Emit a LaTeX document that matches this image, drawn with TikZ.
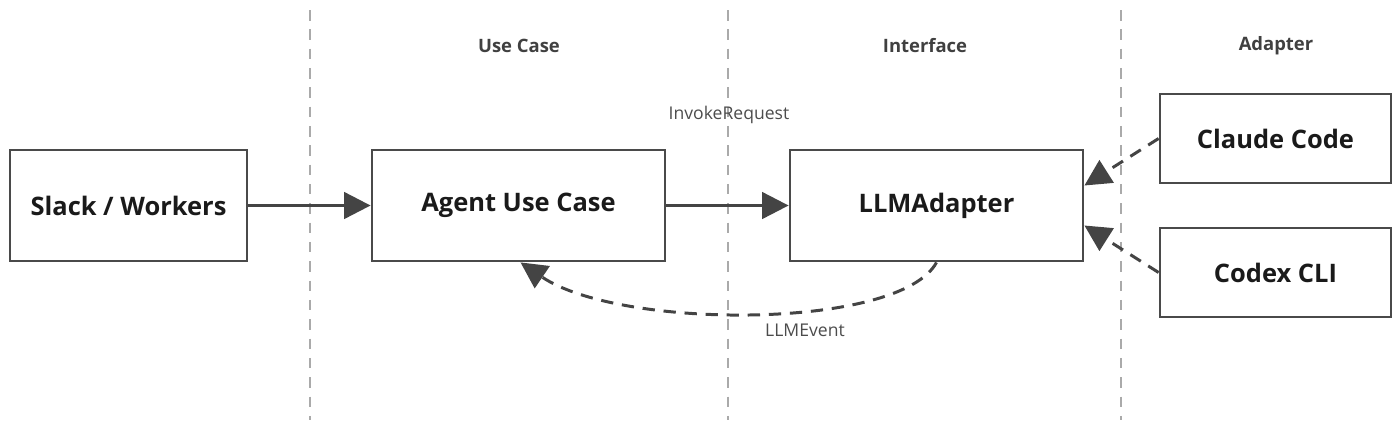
\documentclass[tikz,border=0pt]{standalone}
\usepackage{fontspec}
\setmainfont{Open Sans}
\usetikzlibrary{arrows.meta}
\definecolor{edge}{HTML}{444444}
\definecolor{boxline}{HTML}{4A4A4A}
\definecolor{sep}{HTML}{AAAAAA}
\definecolor{txt}{HTML}{1A1A1A}
\begin{document}
\begin{tikzpicture}[x=0.02cm,y=-0.02cm,
  box/.style={draw=boxline,line width=1.6pt,fill=white,inner sep=0pt,font=\fontsize{14.5}{17}\selectfont\bfseries,text=txt},
  lane/.style={draw=sep,line width=1.2pt,dash pattern=on 6pt off 5pt},
  head/.style={font=\fontsize{10.5}{12}\selectfont\bfseries,text=black!75},
  lbl/.style={font=\fontsize{10}{12}\selectfont,text=black!70},
  flow/.style={draw=edge,line width=1.7pt,-{Triangle[length=15pt,width=15pt]}},
  back/.style={draw=edge,line width=1.7pt,dash pattern=on 7pt off 5pt,-{Triangle[length=15pt,width=15pt]}}]
\useasboundingbox (0,0) rectangle (1400,427);
\coordinate (l1t) at (310,10); \coordinate (l1b) at (310,420);
\coordinate (l2t) at (728,10); \coordinate (l2b) at (728,420);
\coordinate (l3t) at (1121,10); \coordinate (l3b) at (1121,420);
\draw[lane] (l1t) -- (l1b);
\draw[lane] (l2t) -- (l2b);
\draw[lane] (l3t) -- (l3b);
\node[head] (h1) at (519,46) {Use Case};
\node[head] (h2) at (925,46) {Interface};
\node[head] (h3) at (1276,46) {Adapter};
\node[box,minimum width=237*0.02cm,minimum height=111*0.02cm] (slack) at (128.5,205.5) {Slack / Workers};
\node[box,minimum width=293*0.02cm,minimum height=111*0.02cm] (agent) at (518.5,205.5) {Agent Use Case};
\node[box,minimum width=293*0.02cm,minimum height=111*0.02cm] (llm) at (936.5,205.5) {LLMAdapter};
\node[box,minimum width=231*0.02cm,minimum height=89*0.02cm] (claude) at (1275.5,138.5) {Claude Code};
\node[box,minimum width=231*0.02cm,minimum height=89*0.02cm] (codex) at (1275.5,272.5) {Codex CLI};
\node[lbl] (inv) at (729,115) {InvokeRequest};
\node[lbl] (ev) at (805,330) {LLMEvent};
\draw[flow] (slack.east) -- (agent.west);
\draw[flow] (agent.east) -- (llm.west);
\draw[back] (llm.south) .. controls (900,330) and (620,330) .. ([xshift=2*0.02cm]agent.south);
\draw[back] (claude.west) -- ([yshift=20*0.02cm]llm.east);
\draw[back] (codex.west) -- ([yshift=-20*0.02cm]llm.east);
\end{tikzpicture}
\end{document}
